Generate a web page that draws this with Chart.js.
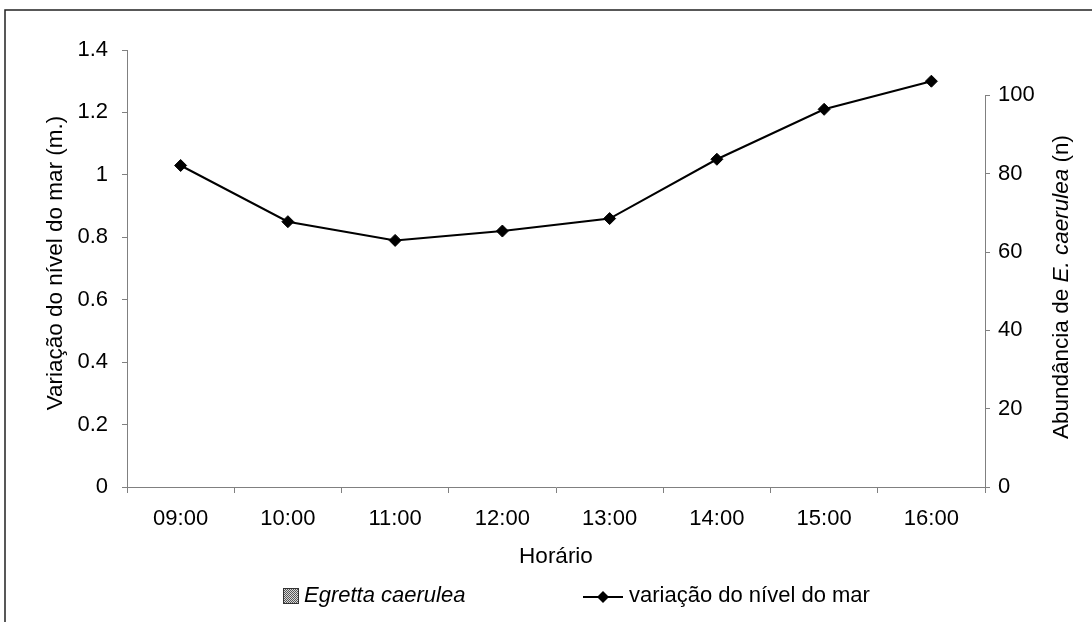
<!DOCTYPE html>
<html>
<head>
<meta charset="utf-8">
<script src="https://cdn.jsdelivr.net/npm/chart.js@4"></script>
<style>
  html, body { margin: 0; padding: 0; background: #fff; }
  #wrap { width: 1092px; height: 622px; position: relative; }
</style>
</head>
<body>
<div id="wrap"><canvas id="grafico"></canvas></div>
<script>
// dados
const horarios = ['09:00', '10:00', '11:00', '12:00', '13:00', '14:00', '15:00', '16:00'];
const nivelMar = [1.03, 0.85, 0.79, 0.82, 0.86, 1.05, 1.21, 1.30];
const egretta = [0, 0, 0, 0, 0, 0, 0, 0];
const ticksEsq = [0, 0.2, 0.4, 0.6, 0.8, 1, 1.2, 1.4];
const ticksDir = [0, 20, 40, 60, 80, 100];

const FONTE = 'Liberation Sans, Arial, sans-serif';
const TAM = 22;
const TAM_TIT = 22.5;

// padrão pontilhado do quadradinho da legenda
function criaPadrao(ctx) {
    const c = document.createElement('canvas');
    c.width = 2; c.height = 2;
    const p = c.getContext('2d');
    p.fillStyle = '#d8d8d8'; p.fillRect(0, 0, 2, 2);
    p.fillStyle = '#555'; p.fillRect(0, 0, 1, 1); p.fillRect(1, 1, 1, 1);
    return ctx.createPattern(c, 'repeat');
}

// títulos, legenda e moldura desenhados à mão
const extras = {
    id: 'extras',
    afterDraw(chart) {
        const ctx = chart.ctx;
        const area = chart.chartArea;
        const y2 = chart.scales.y2;
        ctx.save();

        // moldura
        ctx.strokeStyle = '#222';
        ctx.lineWidth = 1.5;
        ctx.strokeRect(5, 10, 2000, 2000);

        // linha do eixo direito só de 0 a 100
        ctx.strokeStyle = '#808080';
        ctx.lineWidth = 1;
        const xd = Math.round(y2.left) + 0.5;
        ctx.beginPath();
        ctx.moveTo(xd, y2.getPixelForValue(ticksDir[0]));
        ctx.lineTo(xd, y2.getPixelForValue(ticksDir[ticksDir.length - 1]));
        ctx.stroke();

        ctx.fillStyle = '#000';
        ctx.textBaseline = 'middle';

        // título do eixo x
        ctx.font = TAM_TIT + 'px ' + FONTE;
        ctx.textAlign = 'center';
        ctx.fillText('Horário', (area.left + area.right) / 2, 557);

        // título eixo esquerdo
        ctx.save();
        ctx.translate(56, 263);
        ctx.rotate(-Math.PI / 2);
        ctx.fillText('Variação do nível do mar (m.)', 0, 0);
        ctx.restore();

        // título eixo direito (com itálico)
        const partes = [
            { t: 'Abundância de ', it: false },
            { t: 'E. caerulea', it: true },
            { t: ' (n)', it: false }
        ];
        let total = 0;
        partes.forEach(p => {
            ctx.font = (p.it ? 'italic ' : '') + TAM_TIT + 'px ' + FONTE;
            p.w = ctx.measureText(p.t).width;
            total += p.w;
        });
        ctx.save();
        ctx.translate(1062, 287);
        ctx.rotate(-Math.PI / 2);
        ctx.textAlign = 'left';
        let px = -total / 2;
        partes.forEach(p => {
            ctx.font = (p.it ? 'italic ' : '') + TAM_TIT + 'px ' + FONTE;
            ctx.fillText(p.t, px, 0);
            px += p.w;
        });
        ctx.restore();

        // legenda
        const ly = 596;
        ctx.fillStyle = criaPadrao(ctx);
        ctx.fillRect(283, ly - 8, 16, 16);
        ctx.strokeStyle = '#333';
        ctx.lineWidth = 1;
        ctx.strokeRect(283.5, ly - 7.5, 15, 15);
        ctx.fillStyle = '#000';
        ctx.textAlign = 'left';
        ctx.font = 'italic ' + TAM + 'px ' + FONTE;
        ctx.fillText(chart.data.datasets[0].label, 304, ly);

        ctx.strokeStyle = '#000';
        ctx.lineWidth = 2;
        ctx.beginPath();
        ctx.moveTo(583, ly + 1);
        ctx.lineTo(623, ly + 1);
        ctx.stroke();
        ctx.beginPath();
        ctx.moveTo(603 - 6, ly + 1);
        ctx.lineTo(603, ly - 5);
        ctx.lineTo(603 + 6, ly + 1);
        ctx.lineTo(603, ly + 7);
        ctx.closePath();
        ctx.fill();
        ctx.font = TAM + 'px ' + FONTE;
        ctx.fillText(chart.data.datasets[1].label, 629, ly);

        ctx.restore();
    }
};

const ctx = document.getElementById('grafico').getContext('2d');
const grafico = new Chart(ctx, {
    type: 'bar',
    data: {
        labels: horarios,
        datasets: [
            {
                label: 'Egretta caerulea',
                data: egretta,
                yAxisID: 'y2',
                backgroundColor: '#999',
                order: 2
            },
            {
                type: 'line',
                label: 'variação do nível do mar',
                data: nivelMar,
                yAxisID: 'y',
                borderColor: '#000',
                backgroundColor: '#000',
                borderWidth: 2,
                pointStyle: 'rectRot',
                pointRadius: 6,
                pointBorderWidth: 1,
                tension: 0,
                order: 1
            }
        ]
    },
    options: {
        responsive: true,
        maintainAspectRatio: false,
        animation: false,
        layout: { padding: { top: 50, left: 0, right: 0, bottom: 0 } },
        plugins: {
            legend: { display: false },
            tooltip: { enabled: false }
        },
        scales: {
            x: {
                offset: true,
                grid: { offset: true, drawOnChartArea: false, tickLength: 6, color: '#808080' },
                border: { color: '#808080' },
                ticks: { color: '#000', padding: 13, font: { family: FONTE, size: TAM } },
                afterFit(s) { s.height = 622 - 487; }
            },
            y: {
                position: 'left',
                min: 0,
                max: 1.4,
                grid: { drawOnChartArea: false, tickLength: 5, color: '#808080' },
                border: { color: '#808080' },
                ticks: {
                    color: '#000', padding: 14, font: { family: FONTE, size: TAM },
                    callback: v => String(v)
                },
                afterBuildTicks(s) { s.ticks = ticksEsq.map(v => ({ value: v })); },
                afterFit(s) { s.width = 127; }
            },
            y2: {
                position: 'right',
                min: 0,
                max: 111.6,
                grid: { drawOnChartArea: false, tickLength: 5, color: '#808080' },
                border: { display: false },
                ticks: {
                    color: '#000', padding: 8, font: { family: FONTE, size: TAM },
                    callback: v => String(v)
                },
                afterBuildTicks(s) { s.ticks = ticksDir.map(v => ({ value: v })); },
                afterFit(s) { s.width = 1092 - 985; }
            }
        }
    },
    plugins: [extras]
});
</script>
</body>
</html>
